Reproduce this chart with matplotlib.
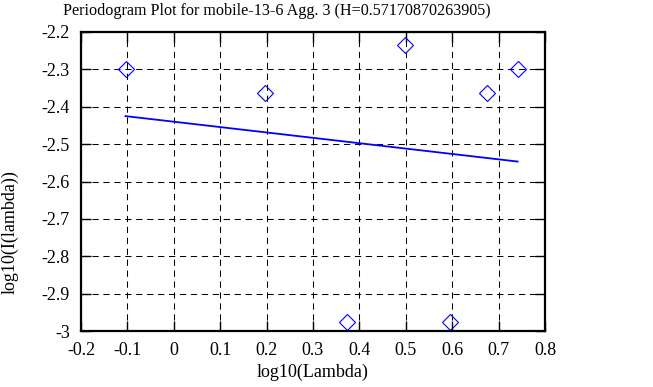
import numpy as np
import matplotlib
matplotlib.use("Agg")
import matplotlib.pyplot as plt

# periodogram points (log10 lambda, log10 I(lambda))
log_lambda = [-0.104, 0.197, 0.373, 0.498, 0.595, 0.674, 0.741]
log_intensity = [-2.300, -2.362, -2.975, -2.234, -2.975, -2.362, -2.300]

x_ticks = [-0.2, -0.1, 0, 0.1, 0.2, 0.3, 0.4, 0.5, 0.6, 0.7, 0.8]
y_ticks = [-3, -2.9, -2.8, -2.7, -2.6, -2.5, -2.4, -2.3, -2.2]

title = "Periodogram Plot for mobile-13-6 Agg. 3 (H=0.57170870263905)"

plt.rcParams["font.family"] = ["Liberation Serif", "DejaVu Serif"]

fig = plt.figure(figsize=(6.53, 3.87), dpi=100)
ax = fig.add_axes([81 / 653, 56 / 387, 464 / 653, 299 / 387])

ax.plot(log_lambda, log_intensity, linestyle="none", marker="D", markersize=8,
        markerfacecolor="none", markeredgecolor="blue", markeredgewidth=0.8)

# least squares fit line
slope, intercept = np.polyfit(log_lambda, log_intensity, 1)
fx = np.array([min(log_lambda), max(log_lambda)])
ax.plot(fx, slope * fx + intercept, color="blue", linewidth=1.3)

ax.set_xlim(-0.2, 0.8)
ax.set_ylim(-3, -2.2)
ax.set_xticks(x_ticks)
ax.set_yticks(y_ticks)
ax.set_xticklabels(["%g" % t for t in x_ticks])
ax.set_yticklabels(["%g" % t for t in y_ticks])
ax.grid(True, color="black", linestyle=(0, (6, 4.5)), linewidth=0.75)
ax.tick_params(direction="in", length=7, width=1, top=True, right=True,
               labelsize=13, colors="black")
ax.tick_params(axis="y", pad=8)
ax.tick_params(axis="x", pad=8)
for s in ax.spines.values():
    s.set_linewidth(1.6)

ax.set_xlabel("log10(Lambda)", fontsize=13, labelpad=3)
fig.text(10 / 653, 1 - 232 / 387, "log10(I(lambda))", rotation=90,
         ha="center", va="center", fontsize=13)
fig.text(277 / 653, 1 - 11 / 387, title, ha="center", va="center", fontsize=11.6)

fig.savefig("out.png", dpi=100)
